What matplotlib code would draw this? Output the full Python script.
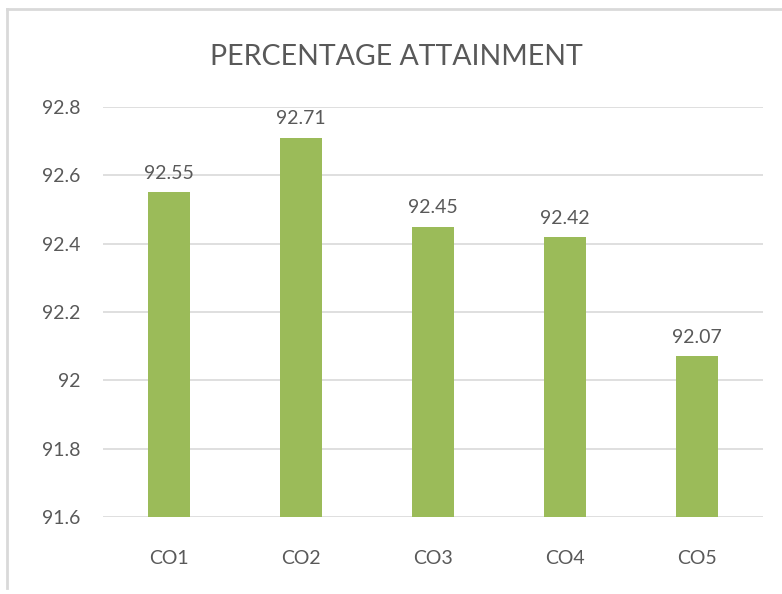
import matplotlib
matplotlib.use("Agg")
import matplotlib.pyplot as plt
from matplotlib.lines import Line2D

categories = ["CO1", "CO2", "CO3", "CO4", "CO5"]
values = [92.55, 92.71, 92.45, 92.42, 92.07]
yticks = [91.6, 91.8, 92.0, 92.2, 92.4, 92.6, 92.8]
ytick_labels = ["91.6", "91.8", "92", "92.2", "92.4", "92.6", "92.8"]

plt.rcParams['font.family'] = ['Lato', 'DejaVu Sans']
txt = '#595959'

fig = plt.figure(figsize=(7.82, 5.94), dpi=100)
ax = fig.add_axes([103/782, 1-517/594, 660/782, 410/594])

x = range(len(categories))
bars = ax.bar(x, values, width=0.32, color='#9BBB59', zorder=3)
for i, v in enumerate(values):
    ax.text(i, v + 0.03, f"{v:.2f}", ha='center', va='bottom', fontsize=14, color=txt)

ax.set_ylim(91.6, 92.8)
ax.set_xlim(-0.5, 4.5)
ax.set_yticks(yticks)
ax.set_yticklabels(ytick_labels)
ax.set_xticks(list(x))
ax.set_xticklabels(categories)
ax.tick_params(length=0, labelsize=14, colors=txt)
ax.tick_params(axis='y', pad=16)
ax.tick_params(axis='x', pad=24)
ax.yaxis.grid(True, color='#D9D9D9', linewidth=1.2, zorder=0)
for s in ax.spines.values():
    s.set_visible(False)
ax.set_facecolor('none')

fig.text(396/782, 1-57/594, "PERCENTAGE ATTAINMENT", ha='center', va='center',
         fontsize=20.5, color=txt)

# outer chart border (top and left only visible)
fig.add_artist(Line2D([7/782, 1], [1-9/594, 1-9/594], transform=fig.transFigure,
                      color='#D9D9D9', linewidth=2))
fig.add_artist(Line2D([7/782, 7/782], [1-9/594, 1-588/594], transform=fig.transFigure,
                      color='#D9D9D9', linewidth=2))

fig.savefig("out.png", dpi=100)
